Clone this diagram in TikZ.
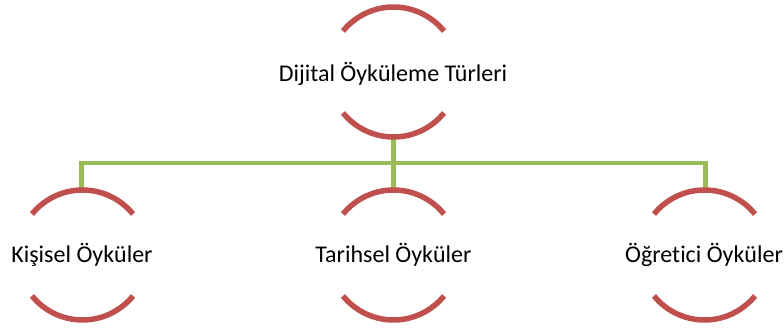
\documentclass[tikz,border=0pt]{standalone}
\usepackage{fontspec}
\setmainfont{Carlito}[Ligatures=NoCommon]
\definecolor{arcred}{HTML}{C0504D}
\definecolor{linkgreen}{HTML}{9BBB59}
\tikzset{
  lbl/.style={inner sep=0pt, anchor=base, font=\fontsize{24}{28}\selectfont, text=black},
  ring/.style={draw=arcred, line width=5.5pt},
  conn/.style={draw=linkgreen, line width=4.5pt, line join=miter},
}
\newcommand{\rings}[1]{%
  \draw[ring] ([shift={(#1)}]39:65pt) arc[start angle=39, end angle=141, radius=65pt];
  \draw[ring] ([shift={(#1)}]219:65pt) arc[start angle=219, end angle=321, radius=65pt];
}
\begin{document}
\begin{tikzpicture}[x=1pt, y=1pt]
  \useasboundingbox (0,0) rectangle (784,331);
  % ring centres
  \coordinate (topc) at (393.5,259);
  \coordinate (kc) at (82.5,76);
  \coordinate (tc) at (393.5,76);
  \coordinate (oc) at (704.5,76);
  % labels, set on their baselines
  \node[lbl] (top) at (393,249) {Dijital Öyküleme Türleri};
  \node[lbl] (k) at (82,68) {Kişisel Öyküler};
  \node[lbl] (t) at (393.5,68) {Tarihsel Öyküler};
  \node[lbl] (o) at (704,68) {Öğretici Öyküler};
  \coordinate (bus) at (393.5,168);
  % connectors
  \draw[conn] ([yshift=-65pt]topc) -- ([yshift=65pt]tc);
  \draw[conn] ([xshift=-1pt,yshift=65pt]kc) |- (bus) -| ([xshift=1pt,yshift=65pt]oc);
  % arcs around each label
  \rings{topc}
  \rings{kc}
  \rings{tc}
  \rings{oc}
\end{tikzpicture}
\end{document}
